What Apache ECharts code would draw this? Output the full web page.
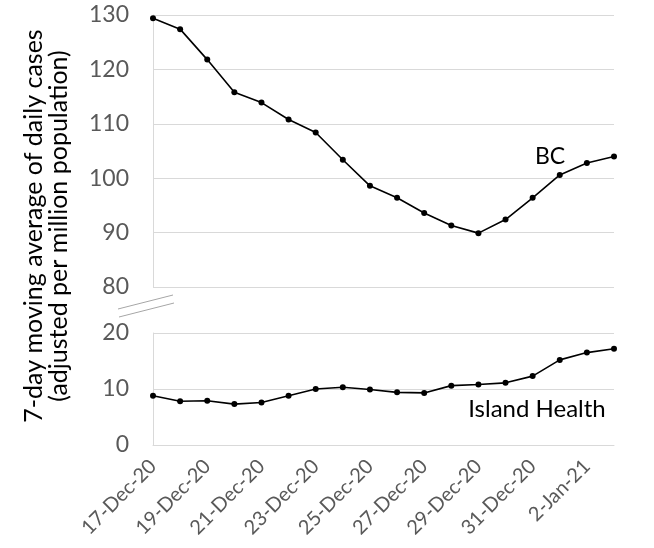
<!DOCTYPE html>
<html>
<head>
<meta charset="utf-8">
<script src="https://cdn.jsdelivr.net/npm/echarts@6/dist/echarts.min.js"></script>
<style>html,body{margin:0;padding:0;background:#fff;}#c{width:654px;height:548px;}</style>
</head>
<body>
<div id="c"></div>
<script>
var categories = ['17-Dec-20','18-Dec-20','19-Dec-20','20-Dec-20','21-Dec-20','22-Dec-20','23-Dec-20','24-Dec-20','25-Dec-20','26-Dec-20','27-Dec-20','28-Dec-20','29-Dec-20','30-Dec-20','31-Dec-20','1-Jan-21','2-Jan-21','3-Jan-21'];
var bcValues = [129.4,127.4,121.8,115.8,113.9,110.8,108.4,103.4,98.6,96.4,93.6,91.3,89.9,92.4,96.4,100.6,102.8,104.0];
var islandHealthValues = [8.8,7.8,7.9,7.3,7.6,8.8,10.0,10.3,9.9,9.4,9.3,10.6,10.8,11.1,12.3,15.2,16.5,17.2];
var topTicks = [80,90,100,110,120,130];
var bottomTicks = [0,10,20];

var FONT = 'Lato';
var chart = echarts.init(document.getElementById('c'));
var gridColor = '#d9d9d9';
var labelColor = '#595959';
chart.setOption({
  animation: false,
  textStyle: {fontFamily: FONT},
  grid: [
    {left: 153, right: 40, top: 15, height: 272},
    {left: 153, right: 40, top: 333, height: 112}
  ],
  xAxis: [
    {type: 'category', gridIndex: 0, data: categories, boundaryGap: false,
     axisLine: {show: false}, axisTick: {show: false}, axisLabel: {show: false}, splitLine: {show: false}},
    {type: 'category', gridIndex: 1, data: categories, boundaryGap: false,
     axisLine: {show: true, lineStyle: {color: gridColor}}, axisTick: {show: false},
     axisLabel: {interval: 1, rotate: 45, fontSize: 20, color: labelColor, margin: 18, fontFamily: FONT},
     splitLine: {show: false}}
  ],
  yAxis: [
    {type: 'value', gridIndex: 0, min: topTicks[0], max: topTicks[topTicks.length-1], interval: 10,
     axisLine: {show: true, lineStyle: {color: gridColor}}, axisTick: {show: false},
     axisLabel: {fontSize: 23, color: labelColor, margin: 24, fontFamily: FONT},
     splitLine: {lineStyle: {color: gridColor, width: 1}}},
    {type: 'value', gridIndex: 1, min: bottomTicks[0], max: bottomTicks[bottomTicks.length-1], interval: 10,
     axisLine: {show: true, lineStyle: {color: gridColor}}, axisTick: {show: false},
     axisLabel: {fontSize: 23, color: labelColor, margin: 24, fontFamily: FONT},
     splitLine: {lineStyle: {color: gridColor, width: 1}}}
  ],
  series: [
    {name: 'BC', type: 'line', xAxisIndex: 0, yAxisIndex: 0, data: bcValues,
     symbol: 'circle', symbolSize: 6, itemStyle: {color: '#000'}, lineStyle: {color: '#000', width: 1.6}},
    {name: 'Island Health', type: 'line', xAxisIndex: 1, yAxisIndex: 1, data: islandHealthValues,
     symbol: 'circle', symbolSize: 6, itemStyle: {color: '#000'}, lineStyle: {color: '#000', width: 1.6}}
  ],
  graphic: [
    {type: 'text', x: 46, y: 226, rotation: Math.PI/2,
     style: {text: '7-day moving average of daily cases\n(adjusted per million population)', x: 0, y: 0,
       align: 'center', verticalAlign: 'middle', fontSize: 25, lineHeight: 25, fill: '#000', fontFamily: FONT}},
    {type: 'text', x: 550, y: 157, style: {text: 'BC', align: 'center', verticalAlign: 'middle', fontSize: 23, fill: '#000', fontFamily: FONT}},
    {type: 'text', x: 537, y: 409, style: {text: 'Island Health', align: 'center', verticalAlign: 'middle', fontSize: 24, fill: '#000', fontFamily: FONT}},
    {type: 'line', shape: {x1: 118, y1: 309, x2: 173, y2: 295}, style: {stroke: '#a6a6a6', lineWidth: 1}},
    {type: 'line', shape: {x1: 119, y1: 317, x2: 174, y2: 303}, style: {stroke: '#a6a6a6', lineWidth: 1}}
  ]
});
</script>
</body>
</html>
